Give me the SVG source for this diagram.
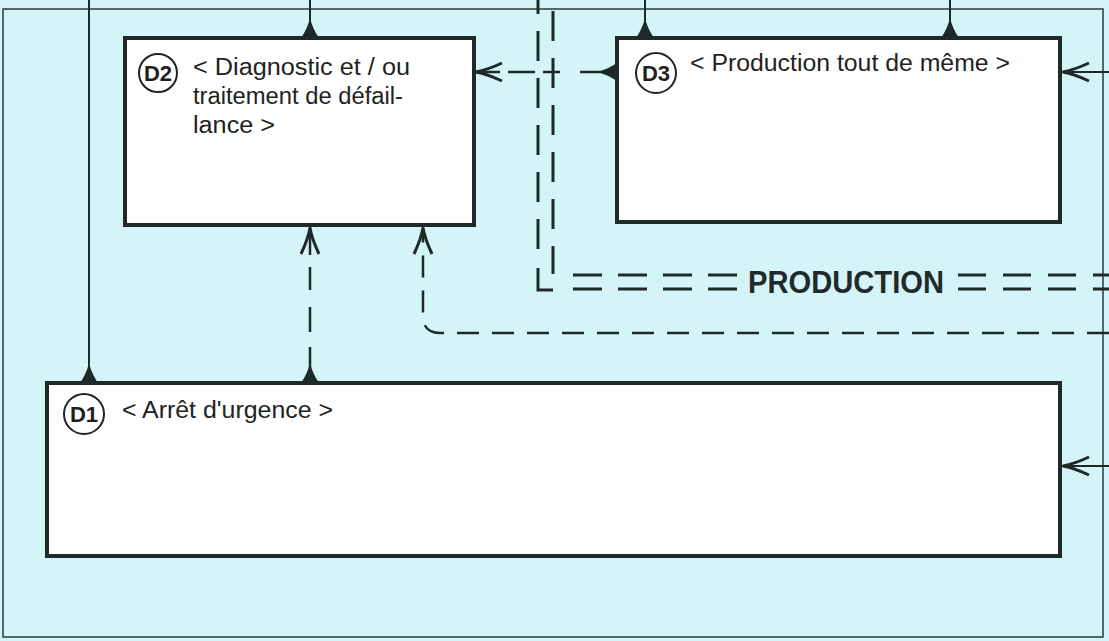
<svg xmlns="http://www.w3.org/2000/svg" width="1109" height="641" viewBox="0 0 1109 641">
<style>
.box{fill:#ffffff;stroke:#1d2a28;stroke-width:4}
.lbl{font-family:"Liberation Sans",Arial,sans-serif;font-size:23px;fill:#222}
.tag{font-family:"Liberation Sans",Arial,sans-serif;font-size:22px;font-weight:bold;fill:#1e1e1e;text-anchor:middle}
.circ{fill:none;stroke:#222;stroke-width:2}
.solid{fill:none;stroke:#1d2a28;stroke-width:2}
.dash{fill:none;stroke:#1d2a28;stroke-width:2.5}
.bound{fill:none;stroke:#1d2a28;stroke-width:3}
</style>
<defs>
<marker id="tri" markerUnits="userSpaceOnUse" markerWidth="26" markerHeight="22" refX="0" refY="0" viewBox="-2 -11 26 22" orient="auto">
<path d="M0,-9 C6,-5 12,-2 20,0 C12,2 6,5 0,9 Z" fill="#1d2a28"/>
</marker>
<marker id="chev" markerUnits="userSpaceOnUse" markerWidth="32" markerHeight="24" refX="0" refY="0" viewBox="-30 -12 32 24" orient="auto">
<path d="M-27,-9 Q-12,-2 -1,0 Q-12,2 -27,9" fill="none" stroke="#1d2a28" stroke-width="3"/>
</marker>
</defs>
<rect x="0" y="0" width="1109" height="641" fill="#d4f4f7"/>
<rect x="3" y="9" width="1100" height="628" fill="none" stroke="#2a3a38" stroke-width="1.5"/>

<g id="connectors">
<path class="solid" d="M89,383 V0" marker-start="url(#tri)"/>
<path class="solid" d="M310,38 V0" marker-start="url(#tri)"/>
<path class="solid" d="M645,38 V0" marker-start="url(#tri)"/>
<path class="solid" d="M950,38 V0" marker-start="url(#tri)"/>
<path class="dash" d="M310,383 V227" stroke-dasharray="36 15 25 17 23 12 60" marker-start="url(#tri)" marker-end="url(#chev)"/>
<path class="dash" d="M1109,333 H440 Q423,333 423,316 V227" stroke-dasharray="22 13" marker-end="url(#chev)"/>
<path class="dash" d="M617,72 H475" stroke-dasharray="37 20 17 8 27 8 40" marker-start="url(#tri)" marker-end="url(#chev)"/>
<path class="solid" d="M1109,72 H1062" marker-end="url(#chev)"/>
<path class="solid" d="M1109,466 H1062" marker-end="url(#chev)"/>
</g>

<g id="production">
<path class="bound" d="M538,0 V264" stroke-dasharray="30 17" stroke-dashoffset="16"/>
<path class="bound" d="M538,268 V290 H553"/>
<path class="bound" d="M553,0 V274" stroke-dasharray="30 17" stroke-dashoffset="-11"/>
<path class="bound" d="M573,275 H740" stroke-dasharray="29 16"/>
<path class="bound" d="M573,289 H740" stroke-dasharray="29 16"/>
<path class="bound" d="M958,275 H1109" stroke-dasharray="28 17"/>
<path class="bound" d="M958,289 H1109" stroke-dasharray="28 17"/>
<text x="748" y="293" font-family="'Liberation Sans',Arial,sans-serif" font-size="31" font-weight="bold" fill="#1f2a2a" textLength="196" lengthAdjust="spacingAndGlyphs">PRODUCTION</text>
</g>

<g id="D2">
<rect class="box" x="125" y="38" width="349" height="187"/>
<circle class="circ" cx="158" cy="73" r="19"/>
<text class="tag" x="158" y="81">D2</text>
<text class="lbl" x="193" y="75" textLength="217" lengthAdjust="spacingAndGlyphs">&lt; Diagnostic et / ou</text>
<text class="lbl" x="193" y="104" textLength="210" lengthAdjust="spacingAndGlyphs">traitement de défail-</text>
<text class="lbl" x="193" y="133" textLength="82" lengthAdjust="spacingAndGlyphs">lance &gt;</text>
</g>

<g id="D3">
<rect class="box" x="617" y="38" width="443" height="184"/>
<circle class="circ" cx="656" cy="73" r="20"/>
<text class="tag" x="656" y="81">D3</text>
<text class="lbl" x="690" y="71" textLength="320" lengthAdjust="spacingAndGlyphs">&lt; Production tout de même &gt;</text>
</g>

<g id="D1">
<rect class="box" x="47" y="383" width="1013" height="173"/>
<circle class="circ" cx="84" cy="414" r="20"/>
<text class="tag" x="84" y="422">D1</text>
<text class="lbl" x="122" y="418" textLength="211" lengthAdjust="spacingAndGlyphs">&lt; Arrêt d'urgence &gt;</text>
</g>
</svg>
